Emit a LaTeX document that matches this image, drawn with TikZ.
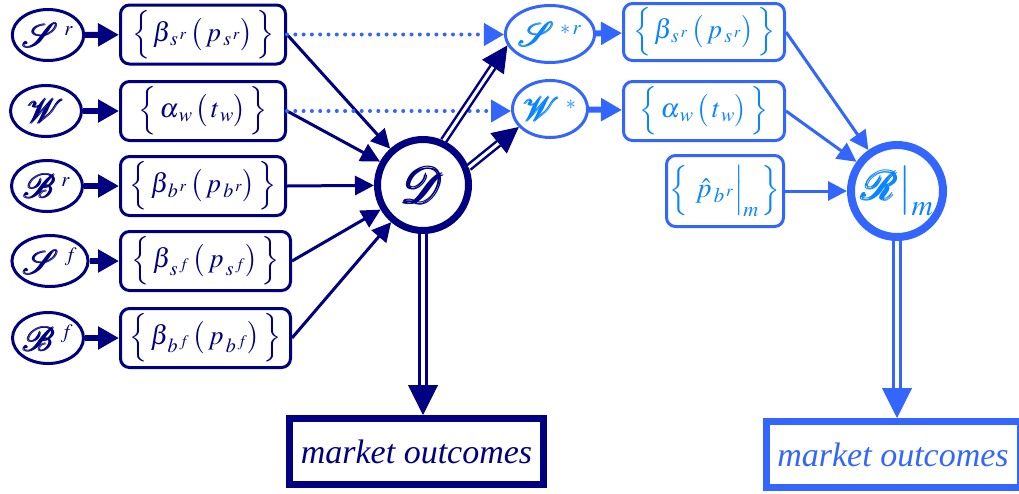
\documentclass[tikz,border=0pt]{standalone}
\usepackage{mathptmx}
\usepackage{amsbsy}
\usepackage{mathrsfs}
% let the script alphabet scale freely to large sizes
\DeclareFontFamily{U}{rsfs}{\skewchar\font127 }
\DeclareFontShape{U}{rsfs}{m}{n}{<-6> rsfs5 <6-8> rsfs7 <8-> rsfs10}{}
\usepackage{fontspec}
\setmainfont{Liberation Serif}
\usetikzlibrary{arrows.meta,shapes.geometric,calc}

\definecolor{deep}{RGB}{0,0,128}
\definecolor{sky}{RGB}{51,102,255}
\definecolor{skyink}{RGB}{10,132,255}

% heavy script letter
\newcommand{\hs}[1]{\pmb{\mathscr{#1}}}
% braces, parentheses and evaluation bars stretched to fixed heights
\newcommand{\bset}[1]{\left\{\rule[-16pt]{0pt}{42pt}\,#1\,\right\}}
\newcommand{\bpar}[1]{\left(\rule[-10pt]{0pt}{31pt}#1\right)}
\newcommand{\atm}[3]{\left.#1\rule[-#2]{0pt}{#3}\right|_{m}}
% lowered, spaced subscript with a small superscript
\newcommand{\sx}[2]{_{\,#1^{\,#2}}}

% double-shafted arrow: thin tipped line underneath, double shaft on top
\newcommand{\twin}[6]{%
  \draw[#1, line width=1pt, -{Triangle[length=#4,width=#4]}] #2 -- #3;
  \draw[#1, line width=#5, double=white, double distance=#6, shorten >=#4] #2 -- #3;}

\tikzset{
  agent/.style={ellipse, line width=3pt, minimum width=71pt, minimum height=51pt,
    inner sep=0pt, font=\fontsize{34}{38}\selectfont},
  curve/.style={rectangle, rounded corners=9pt, line width=3pt, minimum width=165pt,
    minimum height=59pt, inner sep=0pt, font=\fontsize{27}{31}\selectfont},
  hub/.style={circle, inner sep=0pt},
  outcome/.style={rectangle, line width=7pt, minimum width=254pt, minimum height=66pt,
    inner sep=0pt, font=\fontsize{34}{40}\selectfont\itshape},
  navy/.style={draw=deep, text=deep},
  light/.style={draw=sky, text=skyink},
  feed/.style={line width=6pt, -{Triangle[length=21pt,width=22pt]}},
  link/.style={line width=3pt, -{Triangle[length=19pt,width=19pt]}},
  dotlink/.style={line width=4pt, line cap=round, dash pattern=on 0pt off 8.3pt,
    -{Triangle[length=20pt,width=22pt]}},
}

\begin{document}
\begin{tikzpicture}[x=1pt,y=-1pt]
\clip (0,0) rectangle (1019,493);

% agent groups
\node[agent,navy] (Sr) at (48,35)  {$\hs{S}^{\;\scriptscriptstyle r}$};
\node[agent,navy] (W)  at (46,111) {$\hs{W}$};
\node[agent,navy] (Br) at (47,186) {$\hs{B}^{\;\scriptscriptstyle r}$};
\node[agent,navy] (Sf) at (50,261) {$\hs{S}^{\;\scriptscriptstyle f}$};
\node[agent,navy] (Bf) at (48,338) {$\hs{B}^{\;\scriptscriptstyle f}$};

% their bid and offer curves
\node[curve,navy] (cSr) at (203,34.5) {$\bset{\beta\sx{s}{r}\bpar{\,p\sx{s}{r}}}$};
\node[curve,navy] (cW)  at (203,111)  {$\bset{\alpha_{\,w}\bpar{\,t_{\,w}}}$};
\node[curve,navy] (cBr) at (203,186)  {$\bset{\beta\sx{b}{r}\bpar{\,p\sx{b}{r}}}$};
\node[curve,navy,minimum width=170pt] (cSf) at (205.5,261) {$\bset{\beta\sx{s}{f}\bpar{\,p\sx{s}{f}}}$};
\node[curve,navy,minimum width=170pt] (cBf) at (205.5,338) {$\bset{\beta\sx{b}{f}\bpar{\,p\sx{b}{f}}}$};

% day-ahead clearing
\node[hub,navy,line width=7pt,minimum size=91pt,font=\fontsize{50}{54}\selectfont] (D) at (423,185) {$\hs{D}$};

% cleared participants and re-dispatch stage
\node[agent,light,minimum width=73pt,minimum height=57pt] (Ss) at (550,34)  {$\hs{S}^{\;\scriptscriptstyle *\,r}$};
\node[agent,light,minimum width=73pt,minimum height=57pt] (Ws) at (550,109) {$\hs{W}^{\;\scriptscriptstyle *}$};

\node[curve,light,minimum width=161pt,minimum height=57pt] (lSr) at (704,32)  {$\bset{\beta\sx{s}{r}\bpar{\,p\sx{s}{r}}}$};
\node[curve,light,minimum width=161pt] (lW) at (704,111) {$\bset{\alpha_{\,w}\bpar{\,t_{\,w}}}$};
\node[curve,light,minimum width=117pt,minimum height=71pt,font=\fontsize{28}{32}\selectfont] (lP) at (725,191) {$\bset{\atm{\hat{p}\sx{b}{r}}{18pt}{44pt}}$};

\node[hub,light,line width=8pt,minimum size=92pt,font=\fontsize{40}{44}\selectfont] (R) at (897,191) {$\atm{\hs{R}}{14pt}{40pt}$};

% outcomes
\node[outcome,draw=deep,text=deep] (MO1) at (416.5,451.5) {market outcomes};
\node[outcome,draw=sky,text=sky]   (MO2) at (893,454.5)   {market outcomes};

% agents submit curves
\foreach \a/\c in {Sr/cSr, W/cW, Br/cBr, Sf/cSf, Bf/cBf}
  \draw[feed,deep] (\a) -- (\c);
\foreach \c in {cSr, cW, cBr, cSf, cBf}
  \draw[link,deep] (\c.east) -- (D);

% curves carried over
\draw[dotlink,sky] (cSr.east) -- (cSr.east -| Ss.west);
\draw[dotlink,sky] (cW.east) -- (cW.east -| Ws.west);

% clearing results
\twin{deep}{(D.65)}{(Ss.195)}{26pt}{2.5pt}{3pt}
\twin{deep}{(D.21)}{(Ws.210)}{26pt}{2.5pt}{3pt}
\twin{deep}{(D.south)}{(D.south |- MO1.north)}{30pt}{3pt}{4pt}

% re-dispatch
\draw[feed,sky] (Ss) -- (lSr);
\draw[feed,sky] (Ws) -- (lW);
\foreach \c in {lSr, lW, lP}
  \draw[link,sky] (\c.east) -- (R);
\twin{sky}{(R.south)}{(R.south |- MO2.north)}{30pt}{3pt}{4pt}

\end{tikzpicture}
\end{document}
